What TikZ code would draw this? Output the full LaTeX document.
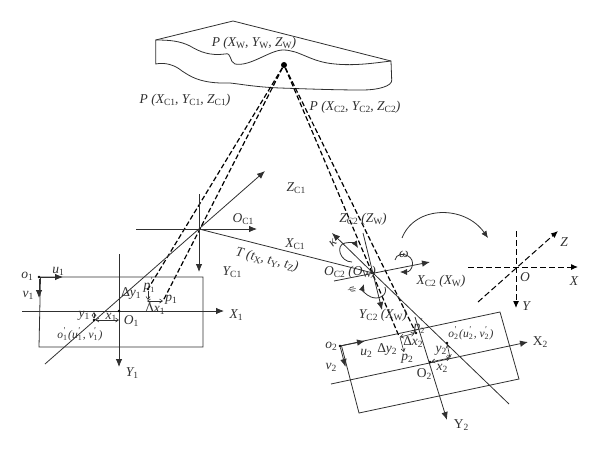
\documentclass[tikz,border=0pt]{standalone}
\usepackage{fontspec}
\setmainfont{Liberation Serif}
\usetikzlibrary{arrows.meta}
\newcommand\lo[1]{\raisebox{-0.35ex}{\fontsize{9.5pt}{10pt}\selectfont\upshape #1}}
\newcommand\bo[1]{\makebox[0pt][l]{\raisebox{0.9ex}{\fontsize{9pt}{10pt}\selectfont\textquotesingle}}\raisebox{-0.45ex}{\fontsize{8pt}{9pt}\selectfont\upshape #1}}
\definecolor{ink}{HTML}{303030}
\tikzset{
  lbl/.style={inner sep=0pt,text=ink,font=\fontsize{13.5pt}{15pt}\selectfont\itshape},
  rom/.style={inner sep=0pt,text=ink,font=\fontsize{13.5pt}{15pt}\selectfont},
  tiny/.style={inner sep=0pt,text=ink,font=\fontsize{11.5pt}{13pt}\selectfont\itshape},
  ln/.style={draw=ink,line width=0.8pt},
  axis/.style={ln,-{Latex[length=8pt,width=6.5pt]}},
  turn/.style={ln,-{Latex[length=7pt,width=6pt]}},
  small/.style={ln,line width=0.6pt,-{Straight Barb[length=3pt,width=4pt]}},
  both/.style={ln,line width=0.6pt,{Straight Barb[length=3pt,width=4pt]}-{Straight Barb[length=3pt,width=4pt]}},
  ray/.style={draw=black,line width=1.2pt,dash pattern=on 5pt off 2.5pt},
  world/.style={draw=black,line width=1pt,dash pattern=on 6pt off 3pt},
  dot/.style={circle,fill=black,inner sep=0pt,minimum size=2.6pt},
}
\begin{document}
\begin{tikzpicture}[x=1pt,y=-1pt]
\useasboundingbox (0,0) rectangle (600,452);
% surface
\draw[ln] (155.7,40) -- (233,21) -- (391,61) -- (391.7,80)
  .. controls (392.5,86) and (378,90) .. (363,90)
  .. controls (335,90) and (310,89) .. (280,88)
  .. controls (255,87) and (240,84) .. (230,83)
  .. controls (200,84) and (190,76) .. (182,71)
  .. controls (175,65) and (165,62) .. (155.7,64) -- cycle;
\draw[ln] (155.7,40) .. controls (170,40) and (180,41) .. (190,46)
  .. controls (200,52) and (210,56) .. (225,54)
  .. controls (232,52) and (229,62) .. (235,64)
  .. controls (250,67) and (270,50) .. (283,50)
  .. controls (300,50) and (310,62) .. (335,64)
  .. controls (355,66) and (375,63) .. (391,61);
\node[circle,fill=black,inner sep=0pt,minimum size=6pt] (P) at (284,65) {};
% named points
\coordinate (C1) at (199,229);
\coordinate (C2) at (373,273);
\node[dot] (pa) at (148,289) {};
\coordinate (pb) at (163,301);
\node[dot] (pc) at (416,333) {};
\coordinate (pd) at (398.5,335);
\coordinate (pe) at (404,352);
% rays
\draw[ray] (P) -- (pa);
\draw[ray] (P) -- (pb);
\draw[ray] (P) -- (pc);
\draw[ray] (P) -- (pd);
% left camera
\coordinate (c1w) at (136,229); \coordinate (c1e) at (257,229);
\coordinate (c1n) at (199,194); \coordinate (c1s) at (199,272);
\coordinate (c1sw) at (45,364); \coordinate (c1ne) at (265,171);
\draw[axis] (c1w) -- (c1e);
\draw[axis] (c1n) -- (c1s);
\draw[axis] (c1sw) -- (c1ne);
\draw[ln] (C1) -- (C2);
% left image
\node[dot] (o1) at (39,277) {};
\draw[ln] (o1) -- (203,277) -- (203,347) -- (39,347) -- cycle;
\coordinate (u1e) at (63,277); \coordinate (v1e) at (39,298);
\draw[axis] (o1) -- (u1e);
\draw[axis] (o1) -- (v1e);
\coordinate (X1w) at (22,311); \coordinate (X1e) at (224,311);
\coordinate (Y1n) at (119,254); \coordinate (Y1s) at (119,367);
\draw[axis] (X1w) -- (X1e);
\draw[axis] (Y1n) -- (Y1s);
\node[dot] (O1) at (119,311) {};
\node[dot] (op1) at (94,320) {};
\draw[both] (op1) -- (119,320);
\draw[both] (op1) -- (94,312);
\draw[small] (pa) -- (148,300);
\draw[both] (147,301) -- (pb);
% right camera
\node[dot] (C2d) at (C2) {};
\coordinate (x2w) at (334,281); \coordinate (x2e) at (430,262);
\coordinate (z2n) at (363,233); \coordinate (y2s) at (382,310);
\coordinate (kap) at (332,233); \coordinate (kse) at (509,404);
\draw[axis] (x2w) -- (x2e);
\draw[axis] (z2n) -- (y2s);
\draw[axis] (C2) -- (kap);
\draw[ln] (C2) -- (kse);
% rotations
\draw[turn] (352,262) .. controls (340,262) and (335,245) .. (345,243) .. controls (350,242) and (355,243) .. (358,248);
\draw[turn] (395,260) .. controls (396,254) and (403,253) .. (408,256) .. controls (416,260) and (412,272) .. (400,272);
\draw[turn] (385,287) .. controls (388,296) and (378,300) .. (371,297) .. controls (366,295) and (362,290) .. (364,284);
\draw[turn] (402,238) .. controls (415,205) and (465,205) .. (488,238);
% right image
\node[dot] (o2) at (340,346) {};
\draw[ln] (o2) -- (500,312) -- (519,379) -- (359,413) -- cycle;
\coordinate (u2e) at (365,341); \coordinate (v2e) at (345.5,367);
\draw[axis] (o2) -- (u2e);
\draw[axis] (o2) -- (v2e);
\coordinate (X2w) at (331,384); \coordinate (X2e) at (528,342);
\coordinate (Y2n) at (415,317); \coordinate (Y2s) at (447,420);
\draw[axis] (X2w) -- (X2e);
\draw[axis] (Y2n) -- (Y2s);
\node[dot] (O2) at (430,362) {};
\node[dot] (op2) at (447,343) {};
\draw[both] (O2) -- (450,358);
\draw[both] (op2) -- (450,358);
\draw[both] (pc) -- (400,337);
\draw[small] (400,337) -- (pe);
% world frame
\node[inner sep=0pt,minimum size=0pt] (O) at (516,267) {};
\coordinate (wxw) at (468,267); \coordinate (wxe) at (578,267);
\coordinate (wyn) at (516,231); \coordinate (wys) at (516,308);
\coordinate (wzw) at (478,302); \coordinate (wze) at (558,231);
\draw[world,-{Latex[length=7pt,width=6pt]}] (wxw) -- (wxe);
\draw[world,-{Latex[length=7pt,width=6pt]}] (wyn) -- (wys);
\draw[world,-{Latex[length=7pt,width=6pt]}] (wzw) -- (wze);
% labels
\node[lbl] (t1) at (254,43) {P (X\lo{W}, Y\lo{W}, Z\lo{W})};
\node[lbl] (t2) at (185,100) {P (X\lo{C1}, Y\lo{C1}, Z\lo{C1})};
\node[lbl] (t3) at (355,107) {P (X\lo{C2}, Y\lo{C2}, Z\lo{C2})};
\node[lbl] (t4) at (296,188) {Z\lo{C1}};
\node[lbl] (t5) at (243,219) {O\lo{C1}};
\node[lbl] (t6) at (295,244) {X\lo{C1}};
\node[lbl] (t7) at (232,272) {Y\lo{C1}};
\node[lbl,rotate=-14] (t8) at (267,260) {T (t\lo{X}, t\lo{Y}, t\lo{Z})};
\node[lbl] (a1) at (27,276) {o\lo{1}};
\node[lbl] (a2) at (58,271) {u\lo{1}};
\node[lbl] (a3) at (28,295) {v\lo{1}};
\node[rom] (a4) at (131,293) {Δ\textit{y}\lo{1}};
\node[lbl] (a5) at (149,285) {p\bo{1}};
\node[lbl] (a6) at (171,300) {p\lo{1}};
\node[rom] (a7) at (155,309) {Δ\textit{x}\lo{1}};
\node[lbl] (a8) at (236,315) {X\lo{1}};
\node[lbl] (a9) at (132,373) {Y\lo{1}};
\node[lbl] (a10) at (131,321) {O\lo{1}};
\node[lbl] (a11) at (84,316) {y\lo{1}};
\node[lbl] (a12) at (111,317) {x\lo{1}};
\node[tiny] (a13) at (80,334) {o\bo{1}\hspace{1pt}(u\bo{1}\hspace{1pt}, v\bo{1}\hspace{1pt})};
\node[lbl] (b1) at (363,219) {Z\lo{C2} (Z\lo{W})};
\node[lbl] (b2) at (350,272) {O\lo{C2} (O\lo{W})};
\node[lbl] (b3) at (441,281) {X\lo{C2} (X\lo{W})};
\node[lbl] (b4) at (383,315) {Y\lo{C2} (X\lo{W})};
\node[lbl,rotate=45] (b5) at (333,243) {κ};
\node[lbl] (b6) at (404,254) {ω};
\node[lbl,rotate=-70,font=\fontsize{10pt}{10pt}\selectfont\itshape] (b7) at (352,290) {ψ};
\node[lbl] (c1) at (331,346) {o\lo{2}};
\node[lbl] (c2) at (331,367) {v\lo{2}};
\node[lbl] (c3) at (366,353) {u\lo{2}};
\node[rom] (c4) at (387,349) {Δ\textit{y}\lo{2}};
\node[lbl] (c5) at (407,359) {p\lo{2}};
\node[rom] (c6) at (413,342) {Δ\textit{x}\lo{2}};
\node[lbl] (c7) at (419,326) {p\bo{2}};
\node[lbl] (c8) at (441,351) {y\lo{2}};
\node[lbl] (c9) at (442,368) {x\lo{2}};
\node[rom] (c10) at (424,374) {O\lo{2}};
\node[tiny] (c11) at (471,333) {o\bo{2}\hspace{1pt}(u\bo{2}\hspace{1pt}, v\bo{2}\hspace{1pt})};
\node[rom] (c12) at (540,342) {X\lo{2}};
\node[rom] (c13) at (461,425) {Y\lo{2}};
\node[lbl] (w1) at (564,242) {Z};
\node[lbl] (w2) at (574,281) {X};
\node[lbl] (w3) at (525,277) {O};
\node[lbl] (w4) at (526,306) {Y};
\end{tikzpicture}
\end{document}
